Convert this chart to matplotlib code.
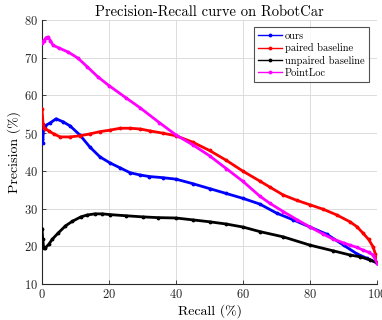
import matplotlib
matplotlib.use("Agg")
import matplotlib.pyplot as plt

plt.rcParams['font.family'] = ['cmr10', 'DejaVu Serif']
plt.rcParams['axes.formatter.use_mathtext'] = True
plt.rcParams['mathtext.fontset'] = 'cm'

title = "Precision-Recall curve on RobotCar"
xlabel = "Recall (%)"
ylabel = "Precision (%)"
xticks = [0, 20, 40, 60, 80, 100]
yticks = [10, 20, 30, 40, 50, 60, 70, 80]

ours_x = [0, 0.2, 0.5, 1, 2.4, 4.2, 6.3, 8.4, 11.3, 14.3, 17.3, 20.3, 23.3, 26.3, 29.3, 32, 36, 40,
          45, 50, 55, 60, 65, 70, 75, 80, 85, 90, 94, 97, 100]
ours_y = [48.5, 47.5, 51.5, 52.0, 52.7, 53.8, 53.0, 51.9, 49.5, 46.3, 43.7, 42.1, 40.8, 39.5, 38.9, 38.5, 38.2, 37.8,
          36.6, 35.3, 34.0, 32.7, 31.2, 28.8, 27.0, 25.1, 23.2, 20.3, 18.0, 16.8, 15.6]

paired_x = [0, 0.3, 0.6, 1, 2, 3.5, 5.4, 8.4, 11.3, 14.3, 17.3, 20.3, 23.3, 26.3, 29.3, 32.2, 36, 40,
            45, 50, 55, 60, 65, 68, 72, 76, 80, 84, 88, 91.9, 94, 95.8, 97.5, 98.8, 99.5, 100]
paired_y = [56.4, 52.5, 51.3, 51.2, 50.6, 49.8, 49.0, 49.0, 49.3, 49.8, 50.4, 50.8, 51.3, 51.3, 51.1, 50.6, 50.0, 49.3,
            47.6, 45.4, 42.8, 39.9, 37.3, 35.7, 33.6, 32.2, 31.0, 29.8, 28.3, 26.5, 25.2, 23.5, 21.8, 19.9, 18.0, 15.8]

unpaired_x = [0, 0.2, 0.5, 1, 2, 3, 4.8, 7, 9, 11.6, 13.5, 15.8, 18, 20.3, 25, 30, 34.6, 40,
              45, 50, 55, 60, 65, 72, 80, 86.9, 91.9, 95, 97.9, 100]
unpaired_y = [24.6, 22.0, 19.5, 19.6, 20.5, 21.8, 23.5, 25.4, 26.6, 27.8, 28.3, 28.6, 28.6, 28.4, 28.1, 27.8, 27.6, 27.5,
              27.0, 26.5, 25.9, 25.1, 23.9, 22.5, 20.3, 18.8, 17.7, 17.2, 16.4, 15.6]

pointloc_x = [0, 0.5, 1.2, 1.8, 2.5, 3.3, 5, 7.8, 10.7, 13.5, 16.7, 20, 25, 29.3, 35, 40, 45, 50, 55, 60,
              65, 68, 72, 76, 80, 84, 86.9, 90, 91.9, 94, 95.8, 97.5, 98.8, 100]
pointloc_y = [74.0, 74.5, 75.3, 75.5, 74.5, 73.3, 72.6, 71.5, 69.9, 67.6, 64.9, 62.6, 59.4, 56.7, 52.8, 49.5, 46.9, 44.0, 40.6, 37.2,
              33.3, 31.4, 29.2, 27.1, 25.1, 23.2, 21.9, 20.9, 20.3, 19.7, 19.0, 18.4, 17.7, 15.6]

series = [
    ("ours", ours_x, ours_y, "#0000ff"),
    ("paired baseline", paired_x, paired_y, "#ff0000"),
    ("unpaired baseline", unpaired_x, unpaired_y, "#000000"),
    ("PointLoc", pointloc_x, pointloc_y, "#ff00ff"),
]

fig = plt.figure(figsize=(3.82, 3.2), dpi=100)
ax = fig.add_axes([0.110, 0.1125, 0.877, 0.825])

for name, xs, ys, c in series:
    ax.plot(xs, ys, color=c, lw=2.0, marker='.', markersize=3.5, label=name, zorder=3)

ax.set_xlim(0, 100)
ax.set_ylim(10, 80)
ax.set_xticks(xticks)
ax.set_yticks(yticks)
ax.grid(True, color='#dcdcdc', lw=0.7)
ax.set_axisbelow(True)
for s in ['top', 'right']:
    ax.spines[s].set_visible(False)
for s in ['left', 'bottom']:
    ax.spines[s].set_color('#262626')
    ax.spines[s].set_linewidth(0.8)
ax.tick_params(direction='in', length=3, width=0.6, labelsize=9, colors='#262626', pad=3)

ax.set_title(title, fontsize=10.5, pad=3)
ax.set_xlabel(xlabel, fontsize=10, labelpad=2)
ax.set_ylabel(ylabel, fontsize=10, labelpad=2)

leg = ax.legend(loc='upper right', bbox_to_anchor=(0.985, 0.985), fontsize=7.5, frameon=True, fancybox=False,
                handlelength=2.3, handletextpad=0.3, borderpad=0.4, labelspacing=0.25, borderaxespad=0.3)
leg.get_frame().set_edgecolor('#262626')
leg.get_frame().set_linewidth(0.8)
for h in leg.get_lines():
    h.set_linewidth(1.0)

fig.savefig("out.png", dpi=100)
